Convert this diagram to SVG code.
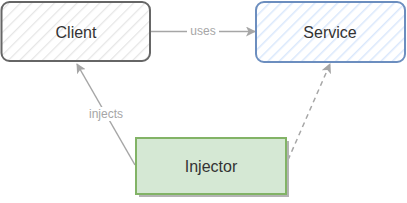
<svg xmlns="http://www.w3.org/2000/svg" width="407" height="203" viewBox="0 0 407 203">
<defs>
<pattern id="hg" width="8" height="8" patternUnits="userSpaceOnUse" patternTransform="rotate(45)">
<rect width="8" height="8" fill="#ffffff"/>
<line x1="0" y1="0" x2="0" y2="8" stroke="#e6e6e6" stroke-width="2.5"/>
</pattern>
<pattern id="hb" width="8" height="8" patternUnits="userSpaceOnUse" patternTransform="rotate(45)">
<rect width="8" height="8" fill="#ffffff"/>
<line x1="0" y1="0" x2="0" y2="8" stroke="#dae8fc" stroke-width="3"/>
</pattern>
<marker id="ah" viewBox="0 0 10 10" refX="9" refY="5" markerWidth="10" markerHeight="10" markerUnits="userSpaceOnUse" orient="auto">
<path d="M0,0 L10,5 L0,10 L2.5,5 Z" fill="#a6a6a6"/>
</marker>
<style>
.lbl{font-family:"Liberation Sans",Arial,sans-serif;font-size:16px;text-anchor:middle;dominant-baseline:central;fill:#333333}
.el{font-family:"Liberation Sans",Arial,sans-serif;font-size:12px;text-anchor:middle;dominant-baseline:central;fill:#a6a6a6}
.edge{fill:none;stroke:#a6a6a6;stroke-width:1.5}
</style>
</defs>
<g id="connectors">
<line class="edge" x1="151" y1="31.5" x2="255" y2="31.5" marker-end="url(#ah)"/>
<rect x="187" y="24" width="32" height="14" fill="#ffffff"/>
<text class="el" x="203" y="31">uses</text>
<line class="edge" x1="135" y1="165" x2="77" y2="64" marker-end="url(#ah)"/>
<rect x="84" y="107" width="44" height="14" fill="#ffffff"/>
<text class="el" x="106" y="114">injects</text>
<line class="edge" x1="288" y1="160" x2="330" y2="64" stroke-dasharray="5 4" marker-end="url(#ah)"/>
</g>
<g id="client">
<rect x="1.5" y="2" width="148.5" height="59" rx="8" fill="url(#hg)" stroke="#666666" stroke-width="2"/>
<text class="lbl" x="76" y="32">Client</text>
</g>
<g id="service">
<rect x="256" y="2" width="149" height="60" rx="8" fill="url(#hb)" stroke="#6c8ebf" stroke-width="2"/>
<text class="lbl" x="330" y="32">Service</text>
</g>
<g id="injector">
<rect x="139" y="141" width="150" height="56" fill="#b3b3b3"/>
<rect x="136" y="138" width="150" height="56" fill="#d5e8d4" stroke="#82b366" stroke-width="2"/>
<text class="lbl" x="211" y="166">Injector</text>
</g>
</svg>
